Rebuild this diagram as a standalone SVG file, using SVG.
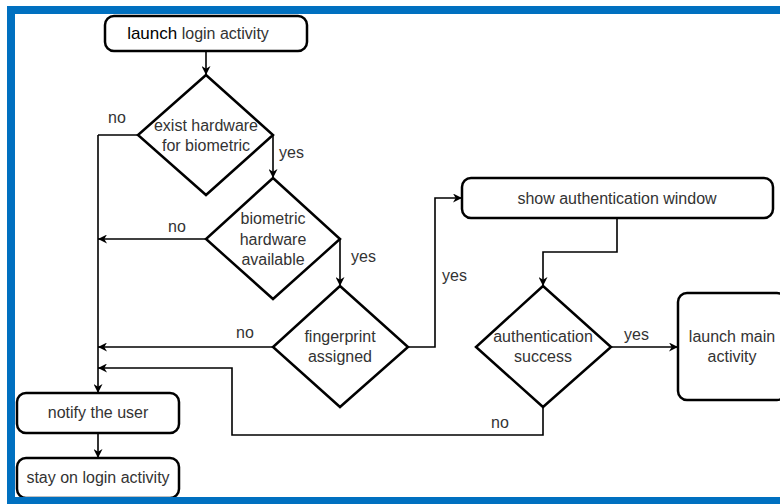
<svg xmlns="http://www.w3.org/2000/svg" width="780" height="504" viewBox="0 0 780 504">
<style>
.n{fill:#fff;stroke:#000;stroke-width:2.5}
.t{font-family:"Liberation Sans",Arial,sans-serif;font-size:16px;fill:#333;text-anchor:middle}
.c{fill:none;stroke:#000;stroke-width:1.6}
.a{marker-end:url(#ah)}
.l{font-family:"Liberation Sans",Arial,sans-serif;font-size:16px;fill:#333}
</style>
<defs>
<marker id="ah" viewBox="0 0 10 10" refX="10" refY="5" markerWidth="9" markerHeight="9" markerUnits="userSpaceOnUse" orient="auto"><path d="M0,0 L10,5 L0,10 L3,5 Z" fill="#000"/></marker>
</defs>
<rect width="780" height="504" fill="#fff"/>
<g id="connectors">
<path class="c a" d="M206,51 V75"/>
<path class="c a" d="M273,135 V178"/>
<path class="c a" d="M340,239 V286"/>
<path class="c" d="M138,135 H98"/>
<path class="c a" d="M98,135 V393"/>
<path class="c a" d="M206,239 H98"/>
<path class="c a" d="M273,347 H98"/>
<path class="c a" d="M408,347 H435 V198 H462"/>
<path class="c a" d="M617,218 V252 H543 V286"/>
<path class="c a" d="M611,347 H678"/>
<path class="c a" d="M543,407 V435 H232 V368 H98"/>
<path class="c a" d="M98,433 V458"/>
<text class="l" x="108" y="123">no</text>
<text class="l" x="279" y="158">yes</text>
<text class="l" x="168" y="232">no</text>
<text class="l" x="351" y="262">yes</text>
<text class="l" x="236" y="338">no</text>
<text class="l" x="442" y="281">yes</text>
<text class="l" x="624" y="340">yes</text>
<text class="l" x="491" y="428">no</text>
</g>
<g id="start">
<rect class="n" x="105" y="16" width="202" height="35" rx="9"/>
<text class="t" x="198" y="39"><tspan fill="#000" font-size="17px">launch</tspan> login activity</text>
</g>
<g id="d1">
<path class="n" d="M206,75 L273,135 L206,195 L138,135 Z"/>
<text class="t" x="206" y="131">exist hardware</text>
<text class="t" x="206" y="151">for biometric</text>
</g>
<g id="d2">
<path class="n" d="M273,178 L340,239 L273,299 L206,239 Z"/>
<text class="t" x="273" y="224">biometric</text>
<text class="t" x="273" y="245">hardware</text>
<text class="t" x="273" y="265">available</text>
</g>
<g id="d3">
<path class="n" d="M340,286 L408,347 L340,407 L273,347 Z"/>
<text class="t" x="340" y="342">fingerprint</text>
<text class="t" x="340" y="362">assigned</text>
</g>
<g id="auth">
<rect class="n" x="462" y="178" width="311" height="40" rx="9"/>
<text class="t" x="617" y="204">show authentication window</text>
</g>
<g id="d4">
<path class="n" d="M543,286 L611,347 L543,407 L476,347 Z"/>
<text class="t" x="543" y="342">authentication</text>
<text class="t" x="543" y="362">success</text>
</g>
<g id="main">
<rect class="n" x="678" y="293" width="108" height="107" rx="9"/>
<text class="t" x="732" y="342">launch main</text>
<text class="t" x="732" y="362">activity</text>
</g>
<g id="notify">
<rect class="n" x="17" y="393" width="162" height="40" rx="9"/>
<text class="t" x="98" y="418">notify the user</text>
</g>
<g id="stay">
<rect class="n" x="17" y="458" width="162" height="40" rx="9"/>
<text class="t" x="98" y="483">stay on login activity</text>
</g>
<g id="frame" fill="#0070C0">
<rect x="7" y="6" width="773" height="8"/>
<rect x="7" y="6" width="8" height="498"/>
<rect x="7" y="497" width="773" height="7"/>
</g>
</svg>
